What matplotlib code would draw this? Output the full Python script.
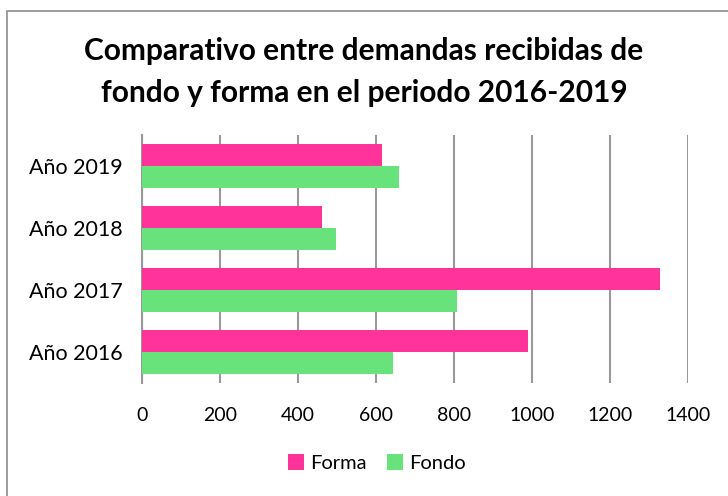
import numpy as np
from matplotlib import pyplot as plt
from matplotlib.patches import Rectangle

categories = ['Año 2016', 'Año 2017', 'Año 2018', 'Año 2019']
forma = [991, 1328, 462, 616]
fondo = [644, 808, 499, 659]
x_ticks = [0, 200, 400, 600, 800, 1000, 1200, 1400]

plt.rcParams['font.family'] = ['Lato', 'DejaVu Sans']

fig = plt.figure(figsize=(7.28, 4.96), dpi=100)
ax = fig.add_axes([0.1947, 0.228, 0.75, 0.5])

# marco exterior del gráfico
fig.patches.append(Rectangle((7 / 728, -0.05), 1.2, 1 - 11 / 496 + 0.05,
                             transform=fig.transFigure, fill=False,
                             edgecolor='#8c8c8c', linewidth=1.2))

y = np.arange(len(categories))
h = 0.36
ax.barh(y + h / 2, forma, height=h, color='#FF3399', label='Forma', zorder=3)
ax.barh(y - h / 2, fondo, height=h, color='#68E27A', label='Fondo', zorder=3)

ax.set_xlim(0, 1400)
ax.set_ylim(-0.5, 3.5)
ax.set_xticks(x_ticks)
ax.set_yticks(y)
ax.set_yticklabels(categories, fontsize=15.5)
ax.tick_params(axis='x', labelsize=14, length=0, pad=17)
ax.tick_params(axis='y', length=0, pad=14)
ax.grid(axis='x', color='#999999', linewidth=1.5, zorder=0)
for side in ['top', 'right', 'bottom']:
    ax.spines[side].set_visible(False)
ax.spines['left'].set_color('#999999')
ax.spines['left'].set_linewidth(1.5)

fig.text(0.5, 0.855, 'Comparativo entre demandas recibidas de\nfondo y forma en el periodo 2016-2019',
         ha='center', va='center', fontsize=21.5, fontweight='bold', linespacing=1.6)

ax.legend(loc='upper center', bbox_to_anchor=(0.43, -0.215), ncol=2, frameon=False,
          fontsize=14.5, handlelength=0.8, handleheight=0.8, handletextpad=0.3,
          columnspacing=1.0)

fig.savefig('out.png', dpi=100)
